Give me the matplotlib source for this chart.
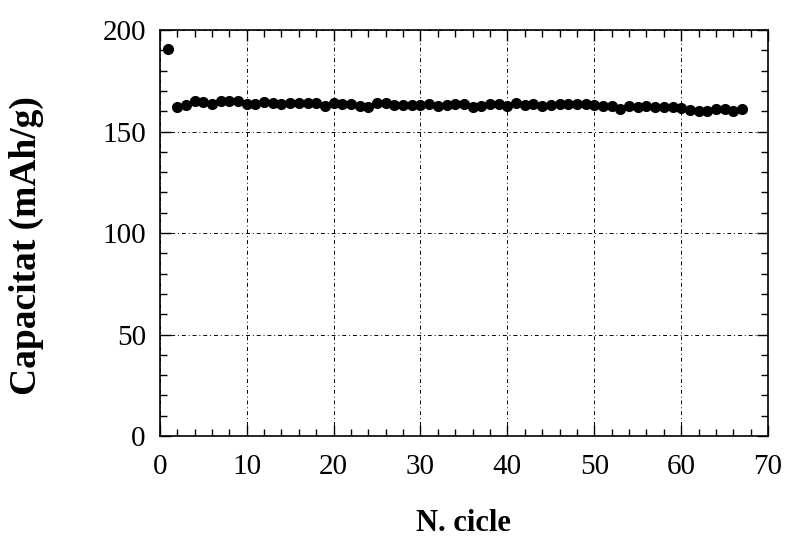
import matplotlib.pyplot as plt
from matplotlib.ticker import MultipleLocator

# Capacity per cycle
cycles = list(range(1, 68))
capacity = [
    190.6, 162.2, 163.0, 165.3, 164.7, 163.8, 165.3, 165.3, 165.3, 163.8,
    163.4, 164.8, 164.0, 163.4, 164.0, 164.0, 164.0, 164.0, 162.5, 164.1,
    163.5, 163.8, 162.8, 162.3, 164.0, 164.1, 163.2, 163.2, 163.2, 163.2,
    163.5, 162.5, 163.2, 163.5, 163.5, 162.0, 162.6, 163.5, 163.5, 162.6,
    163.9, 162.9, 163.5, 162.6, 162.9, 163.5, 163.5, 163.5, 163.5, 162.9,
    162.6, 162.6, 161.0, 162.6, 162.2, 162.6, 161.9, 161.9, 161.9, 161.4,
    160.6, 159.9, 160.3, 161.2, 160.9, 159.9, 160.9,
]

plt.rcParams['font.family'] = ['Liberation Serif', 'DejaVu Serif']

fig = plt.figure(figsize=(7.87, 5.37), dpi=100)
ax = fig.add_axes([0.203, 0.188, 0.773, 0.756])

ax.plot(cycles, capacity, 'o', color='black', markersize=7, zorder=3)

ax.set_xlim(0, 70)
ax.set_ylim(0, 200)
ax.xaxis.set_major_locator(MultipleLocator(10))
ax.xaxis.set_minor_locator(MultipleLocator(2))
ax.yaxis.set_major_locator(MultipleLocator(50))
ax.yaxis.set_minor_locator(MultipleLocator(10))
ax.tick_params(which='both', direction='in', top=True, right=True,
               labelsize=21, width=1)
ax.tick_params(axis='x', pad=13)
ax.tick_params(axis='y', pad=10)
ax.tick_params(which='major', length=8)
ax.tick_params(which='minor', length=5)

ax.grid(True, which='major', color='black', linestyle='-.', linewidth=0.7,
        dashes=(4, 3, 1, 3))

for s in ax.spines.values():
    s.set_linewidth(1.2)

ax.set_xlabel('N. cicle', fontsize=22, fontweight='bold')
ax.set_ylabel('Capacitat (mAh/g)', fontsize=27, fontweight='bold')
ax.xaxis.set_label_coords(0.5, -0.18)
ax.yaxis.set_label_coords(-0.19, 0.47)

fig.savefig('out.png', dpi=100)
